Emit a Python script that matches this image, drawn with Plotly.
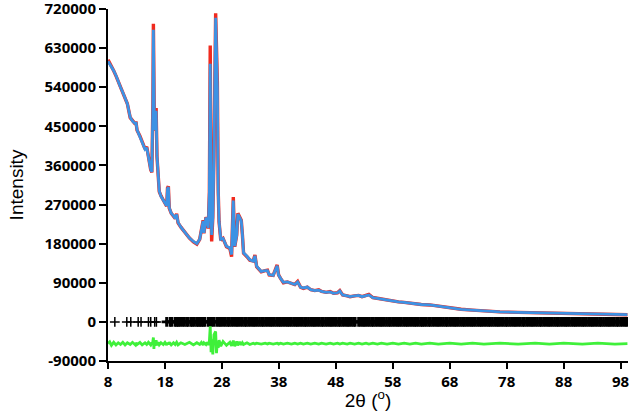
import plotly.graph_objects as go

# 2-theta grid (degrees)
two_theta = [8.0, 8.3, 8.6, 9.0, 9.4, 9.8, 10.2, 10.6, 11.0, 11.4, 11.9, 12.3, 12.8, 12.9, 13.1, 13.6, 14.0,
             14.5, 14.8, 15.1, 15.5, 15.7, 15.8, 15.88, 15.97, 16.06, 16.15, 16.25, 16.45, 16.6, 16.8, 17.0,
             17.3, 17.7, 18.0, 18.3, 18.45, 18.6, 18.75, 19.1, 19.5, 19.8, 20.05, 20.3, 20.8, 21.5, 22.3,
             23.0, 23.6, 24.1, 24.4, 24.7, 24.85, 25.2, 25.4, 25.6, 25.8, 25.95, 26.1, 26.2, 26.4, 26.6,
             26.9, 27.05, 27.2, 27.35, 27.5, 27.8, 28.2, 28.8, 29.4, 29.7, 30.0, 30.25, 30.6, 30.8, 31.1,
             31.4, 31.6, 31.8, 32.4, 32.9, 33.5, 33.8, 34.1, 34.9, 35.6, 36.0, 36.3, 37.0, 37.7, 37.95,
             38.3, 38.8, 39.5, 40.2, 40.8, 41.3, 41.8, 42.3, 43.0, 43.6, 44.3, 45.0, 45.5, 46.3, 47.0,
             47.6, 48.3, 48.7, 49.2, 50.0, 50.5, 51.3, 52.0, 52.6, 53.3, 53.8, 54.5, 55.3, 56.0, 57.0,
             58.0, 59.0, 60.0, 61.0, 62.0, 63.0, 64.5, 66.0, 68.0, 70.0, 72.0, 74.0, 76.8, 80.0, 83.0,
             85.5, 88.0, 91.3, 94.0, 97.0, 99.2]

# observed intensity
y_obs = [603000, 596000, 588000, 578000, 566000, 553000, 540000, 527000, 515000, 502000, 470000, 462000, 455000,
         461000, 441000, 428000, 415000, 398000, 403000, 375000, 350000, 344000, 420000, 500000, 686000, 480000,
         440000, 470000, 492000, 380000, 330000, 300000, 290000, 280000, 272000, 266000, 308000, 312000, 262000,
         250000, 243000, 238000, 249000, 228000, 218000, 205000, 193000, 184000, 179000, 190000, 211000, 234000,
         204000, 241000, 234000, 215000, 300000, 636000, 250000, 185000, 240000, 380000, 710000, 600000, 553000,
         300000, 230000, 188000, 192000, 173000, 169000, 150000, 287000, 173000, 200000, 250000, 242000, 234000,
         200000, 158000, 150000, 142000, 140000, 154000, 127000, 115000, 118000, 119000, 108000, 107000, 131000,
         108000, 100000, 90000, 92000, 88000, 86000, 93000, 80000, 77000, 80000, 74000, 72000, 74000, 70000,
         68000, 70000, 66000, 67000, 72000, 62000, 60000, 58000, 60000, 61000, 58000, 61000, 63000, 56000, 54000,
         52000, 50000, 48000, 46000, 45000, 43000, 42000, 40000, 39000, 36000, 32000, 29000, 27000, 25000,
         23000, 22000, 21000, 20000, 19000, 18000, 17500, 17000, 16500]

# calculated intensity
y_calc = [600000, 594000, 588000, 578000, 567000, 552000, 540000, 528000, 514000, 502000, 471000, 462000, 456000,
          460000, 442000, 427000, 416000, 397000, 401000, 376000, 351000, 345000, 420000, 498000, 672000, 482000,
          441000, 468000, 486000, 382000, 331000, 301000, 289000, 281000, 272000, 267000, 306000, 310000, 263000,
          250000, 244000, 238000, 247000, 229000, 218000, 206000, 193000, 185000, 180000, 190000, 210000, 232000,
          205000, 240000, 233000, 216000, 298000, 594000, 252000, 200000, 241000, 378000, 700000, 598000, 540000,
          302000, 231000, 190000, 192000, 174000, 170000, 155000, 279000, 174000, 199000, 248000, 241000, 233000,
          201000, 159000, 151000, 143000, 140000, 152000, 128000, 116000, 118000, 118000, 109000, 107000, 129000,
          108000, 100000, 91000, 92000, 88000, 86000, 92000, 80000, 78000, 80000, 74000, 72000, 73000, 70000,
          68000, 69000, 66000, 67000, 71000, 62000, 60000, 58000, 60000, 61000, 58000, 61000, 62000, 56000, 54000,
          52000, 50000, 48000, 46000, 45000, 43000, 42000, 40000, 39000, 36000, 32000, 29000, 27000, 25000,
          23000, 22000, 21000, 20000, 19000, 18000, 17500, 17000, 16500]

# difference curve (offset)
y_diff = [-50000, -46000, -54000, -47000, -53000, -48000, -52000, -47000, -53000, -48000, -52000, -47000, -53000,
          -48000, -52000, -47000, -53000, -48000, -52000, -47000, -53000, -48000, -52000, -44000, -36000, -62000,
          -44000, -55000, -42000, -54000, -47000, -53000, -48000, -52000, -47000, -53000, -48000, -52000, -47000,
          -53000, -48000, -52000, -47000, -53000, -48000, -52000, -47000, -53000, -48000, -52000, -47000, -53000,
          -48000, -52000, -47000, -53000, -44000, -10000, -70000, -40000, -75000, -30000, -22000, -72000, -45000,
          -60000, -42000, -56000, -45000, -54000, -47000, -55000, -43000, -56000, -45000, -54000, -46000, -53000,
          -48000, -52000, -48000, -52000, -49000, -51000, -49000, -51000, -49000, -51000, -49000, -51000, -49000,
          -51000, -49000, -51000, -49000, -51000, -49000, -51000, -49000, -51000, -49000, -51000, -49000, -51000,
          -49000, -51000, -49000, -51000, -49000, -51000, -49000, -51000, -49000, -51000, -49000, -51000, -49000,
          -51000, -49000, -51000, -49000, -51000, -49000, -51000, -49000, -51000, -49000, -51000, -49000, -51000,
          -49000, -51000, -49000, -51000, -49000, -51000, -49000, -51000, -49000, -51000, -49000, -51000, -50000]

# Bragg reflection positions (degrees)
hkl_pos = [9.2, 11.3, 12.0, 13.3, 13.8, 15.1, 15.5, 16.2, 16.5,
           18.29, 18.88, 19.17, 19.75, 20.05, 20.34, 20.63, 21.04, 21.39, 21.8, 22.09, 22.56, 22.8, 23.15,
           23.56, 23.85, 24.14, 24.43, 24.72, 25.02, 25.6, 25.9, 26.2, 26.6,
           27.1, 27.5, 27.8, 28.2, 28.6, 29.0, 29.3, 29.7, 30.1, 30.5, 30.8, 31.2, 31.6, 32.0, 32.3, 32.7,
           33.1, 33.5, 33.8, 34.2, 34.6, 35.0, 35.3, 35.7, 36.1, 36.5, 36.8, 37.2, 37.6, 38.0, 38.3, 38.7,
           39.1, 39.5, 39.8, 40.2, 40.6, 41.0, 41.3, 41.7, 42.1, 42.5, 42.8, 43.2, 43.6, 44.0, 44.3, 44.7,
           45.1, 45.5, 45.8, 46.2, 46.6, 47.0, 47.3, 47.7, 48.1, 48.5, 48.8, 49.2, 49.6, 50.0, 50.3, 50.7,
           51.1, 51.4, 52.0, 52.4, 52.8, 53.1, 53.5, 53.9, 54.3, 54.6, 55.0, 55.4, 55.8, 56.1, 56.5, 56.9,
           57.3, 57.6, 58.0, 58.4, 58.8, 59.1, 59.5, 59.9, 60.3, 60.6, 61.0, 61.4, 61.8, 62.1, 62.5, 62.9,
           63.2, 63.5, 63.9, 64.3, 64.6, 65.0, 65.4, 65.8, 66.1, 66.5, 66.9, 67.3, 67.6, 68.0, 68.4, 68.8,
           69.1, 69.5, 69.9, 70.3, 70.6, 71.0, 71.4, 71.8, 72.1, 72.5, 72.9, 73.3, 73.6, 74.0, 74.4, 74.8,
           75.1, 75.5, 75.9, 76.3, 76.6, 77.0, 77.4, 77.8, 78.1, 78.5, 78.9, 79.3, 79.6, 80.0, 80.4, 80.8,
           81.1, 81.5, 81.9, 82.3, 82.6, 83.0, 83.4, 83.8, 84.1, 84.5, 84.9, 85.3, 85.6, 86.0, 86.4, 86.8,
           87.1, 87.5, 87.9, 88.3, 88.6, 89.0, 89.4, 89.8, 90.1, 90.5, 90.9, 91.3, 91.6, 92.0, 92.4, 92.8,
           93.1, 93.5, 93.9, 94.3, 94.6, 95.0, 95.4, 95.8, 96.1, 96.5, 96.9, 97.3, 97.6, 98.0, 98.4, 98.8, 99.1]
hkl_y = [0] * len(hkl_pos)

x_ticks = [8, 18, 28, 38, 48, 58, 68, 78, 88, 98]
y_ticks = [-90000, 0, 90000, 180000, 270000, 360000, 450000, 540000, 630000, 720000]

# thin crosses where reflections are sparse, heavier where they merge into a band
hkl_line_w = [1.5 if p < 18 else 2.8 for p in hkl_pos]

fig = go.Figure()
fig.add_trace(go.Scatter(x=two_theta, y=y_obs, mode="lines", line=dict(color="#f02a1e", width=3.4),
                         name="Observed"))
fig.add_trace(go.Scatter(x=two_theta, y=y_calc, mode="lines", line=dict(color="#3d92e4", width=2.8),
                         name="Calculated"))
fig.add_trace(go.Scatter(x=hkl_pos, y=hkl_y, mode="markers",
                         marker=dict(symbol="cross-thin", size=7, line=dict(color="black", width=hkl_line_w)),
                         name="Bragg"))
fig.add_trace(go.Scatter(x=two_theta, y=y_diff, mode="lines", line=dict(color="#3ff03a", width=2.8),
                         name="Difference"))

tickfont = dict(family="Open Sans", size=15, color="black", weight="bold")
fig.update_layout(
    width=640, height=411,
    margin=dict(l=108, r=12, t=9, b=50),
    paper_bgcolor="white", plot_bgcolor="white",
    showlegend=False,
    xaxis=dict(range=[8, 99.3], tickvals=x_ticks, ticktext=[str(v) for v in x_ticks],
               showgrid=False, zeroline=False, showline=True, linecolor="black", linewidth=2,
               ticks="outside", ticklen=6, tickwidth=2, tickcolor="black", tickfont=tickfont,
               ticklabeloverflow="allow",
               title=dict(text="2θ (<sup>o</sup>)", font=dict(family="Liberation Sans", size=19, color="black"),
                          standoff=2),
               automargin=False),
    yaxis=dict(range=[-90000, 720000], tickvals=y_ticks, ticktext=[str(v) for v in y_ticks],
               showgrid=False, zeroline=False, showline=True, linecolor="black", linewidth=2,
               ticks="outside", ticklen=7, tickwidth=2, tickcolor="black", tickfont=tickfont,
               ticklabeloverflow="allow",
               title=dict(text="Intensity", font=dict(family="Liberation Sans", size=19, color="black"),
                          standoff=16),
               automargin=False),
)
fig.write_html("out.html", config={"displayModeBar": False},
               post_script="document.body.style.margin='0';")
